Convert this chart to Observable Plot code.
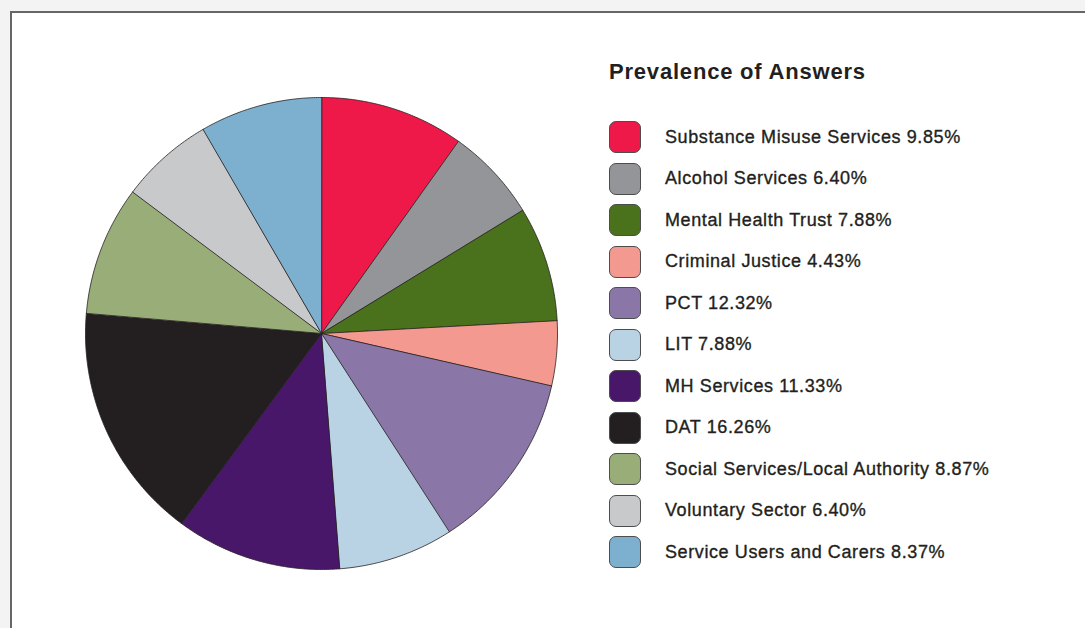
<!DOCTYPE html>
<html>
<head>
<meta charset="utf-8">
<script src="https://cdn.jsdelivr.net/npm/d3@7"></script>
<script src="https://cdn.jsdelivr.net/npm/@observablehq/plot@0.6"></script>
<style>
  html, body { margin: 0; padding: 0; }
  body {
    width: 1085px; height: 628px; overflow: hidden; position: relative;
    background: #f3f3f3;
    font-family: "Liberation Sans", Arial, Helvetica, sans-serif;
    color: #231f20;
  }
  #panel {
    position: absolute; left: 10px; top: 11px; width: 1100px; height: 650px;
    background: #fff; border: 2px solid #666;
  }
  #pie { position: absolute; left: 71px; top: 83px; }
  #legend { position: absolute; left: 609px; top: 0; }
  #legend h2 {
    position: absolute; left: 0; top: 59px; margin: 0; white-space: nowrap;
    font-size: 22px; line-height: 26px; font-weight: bold; letter-spacing: 0.8px;
  }
  .row { position: absolute; left: 0; height: 32px; display: flex; align-items: center; white-space: nowrap; }
  .sw { width: 30px; height: 30px; border: 1px solid #4d4d4d; border-radius: 7px; box-sizing: content-box; }
  .lab {
    margin-left: 24px; font-size: 18px; letter-spacing: 0.6px;
    -webkit-text-stroke: 0.35px #231f20;
  }
</style>
</head>
<body>
<div id="panel"></div>
<div id="pie"></div>
<div id="legend"><h2>Prevalence of Answers</h2></div>
<script>
// Share of answers by organisation type (percent)
const categories = [
  "Substance Misuse Services",
  "Alcohol Services",
  "Mental Health Trust",
  "Criminal Justice",
  "PCT",
  "LIT",
  "MH Services",
  "DAT",
  "Social Services/Local Authority",
  "Voluntary Sector",
  "Service Users and Carers"
];
const shares = [9.85, 6.40, 7.88, 4.43, 12.32, 7.88, 11.33, 16.26, 8.87, 6.40, 8.37];
const colors = [
  "#ee1849", "#939598", "#4a711c", "#f4998f", "#8b76a8", "#b9d3e4",
  "#48176a", "#231f20", "#98ad77", "#c8c9cb", "#7db0ce"
];

// Slice angles, starting at 12 o'clock and running clockwise
const arcs = d3.pie().sort(null).value(d => d.value).startAngle(0).endAngle(2 * Math.PI)(
  categories.map((name, i) => ({name, value: shares[i]}))
);

// Unit-circle wedge polygon for one slice (y up, reflected by the projection)
function wedge(a0, a1) {
  const n = Math.max(2, Math.ceil((a1 - a0) / (Math.PI / 360)));
  const ring = [[0, 0]];
  for (let k = 0; k <= n; ++k) {
    const a = a0 + (a1 - a0) * k / n;
    ring.push([Math.sin(a), Math.cos(a)]);
  }
  ring.push([0, 0]);
  return ring;
}

const slices = arcs.map(a => ({
  type: "Feature",
  properties: {name: a.data.name, value: a.data.value},
  geometry: {type: "Polygon", coordinates: [wedge(a.startAngle, a.endAngle)]}
}));
const disc = {type: "Polygon", coordinates: [wedge(0, 2 * Math.PI).slice(1, -1).concat([[0, 1]])]};

const chart = Plot.plot({
  width: 500,
  height: 500,
  margin: 14,
  projection: {type: "reflect-y", domain: disc},
  color: {domain: categories, range: colors},
  marks: [
    Plot.geo(slices, {
      fill: d => d.properties.name,
      stroke: "#231f20",
      strokeWidth: 0.8,
      strokeLinejoin: "round"
    })
  ]
});
document.getElementById("pie").appendChild(chart);

// Legend rows
const legend = document.getElementById("legend");
categories.forEach((name, i) => {
  const row = document.createElement("div");
  row.className = "row";
  row.style.top = (121 + i * 41.5) + "px";
  const sw = document.createElement("div");
  sw.className = "sw";
  sw.style.background = colors[i];
  const lab = document.createElement("div");
  lab.className = "lab";
  lab.textContent = `${name} ${shares[i].toFixed(2)}%`;
  row.append(sw, lab);
  legend.appendChild(row);
});
</script>
</body>
</html>
